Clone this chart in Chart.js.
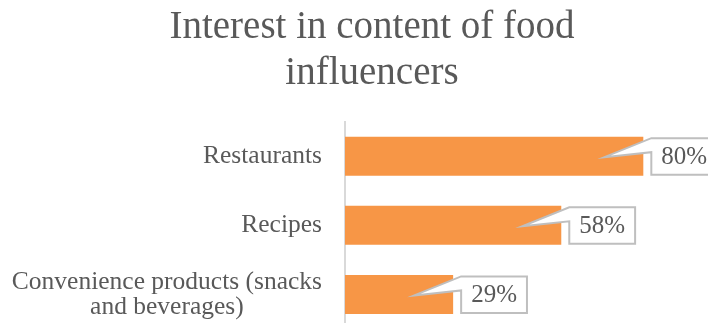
<!DOCTYPE html>
<html>
<head>
<meta charset="utf-8">
<script src="https://cdn.jsdelivr.net/npm/chart.js@4/dist/chart.umd.min.js"></script>
<style>
  html, body { margin: 0; padding: 0; background: #ffffff; overflow: hidden; }
  #wrap { width: 708px; height: 323px; overflow: hidden; position: relative; }
  canvas { display: block; }
</style>
</head>
<body>
<div id="wrap"><canvas id="chart" width="744" height="330"></canvas></div>
<script>
// Share of respondents interested in each kind of food-influencer content
const titleLines = ['Interest in content of food', 'influencers'];
const categories = ['Restaurants', 'Recipes', ['Convenience products (snacks', 'and beverages)']];
const interestPct = [80, 58, 29];

const TEXT = '#595959';
const SERIF = '"Liberation Serif", "DejaVu Serif", serif';

// Category labels: right-aligned block, each wrapped line centred inside it
const categoryLabels = {
  id: 'categoryLabels',
  afterDraw(chart) {
    const { ctx } = chart;
    const y = chart.scales.y;
    const right = y.right - 23;
    const lh = 25;
    ctx.save();
    ctx.font = '25.5px ' + SERIF;
    ctx.fillStyle = TEXT;
    ctx.textAlign = 'center';
    ctx.textBaseline = 'middle';
    categories.forEach((lab, i) => {
      const lines = Array.isArray(lab) ? lab : [lab];
      const w = Math.max(...lines.map(l => ctx.measureText(l).width));
      const cx = right - w / 2;
      const cy = y.getPixelForTick(i);
      lines.forEach((l, k) => {
        ctx.fillText(l, cx, cy + (k - (lines.length - 1) / 2) * lh);
      });
    });
    ctx.restore();
  }
};

// Value callouts: white box with a thin pointer reaching back into the bar
const valueCallouts = {
  id: 'valueCallouts',
  afterDatasetsDraw(chart) {
    const { ctx } = chart;
    const meta = chart.getDatasetMeta(0);
    ctx.save();
    ctx.font = '25px ' + SERIF;
    meta.data.forEach((bar, i) => {
      const txt = interestPct[i] + '%';
      const tw = ctx.measureText(txt).width;
      const L = bar.x + 8;
      const T = bar.y - 18;
      const B = bar.y + 18.5;
      const R = L + tw + 20;
      ctx.beginPath();
      ctx.moveTo(L, T);
      ctx.lineTo(R, T);
      ctx.lineTo(R, B);
      ctx.lineTo(L, B);
      ctx.lineTo(L, T + 14);
      ctx.lineTo(bar.x - 39, bar.y + 1);
      ctx.closePath();
      ctx.fillStyle = '#ffffff';
      ctx.fill();
      ctx.lineWidth = 2;
      ctx.lineJoin = 'miter';
      ctx.strokeStyle = '#BFBFBF';
      ctx.stroke();
      ctx.fillStyle = TEXT;
      ctx.textAlign = 'center';
      ctx.textBaseline = 'middle';
      ctx.fillText(txt, (L + R) / 2, bar.y + 1);
    });
    ctx.restore();
  }
};

new Chart(document.getElementById('chart'), {
  type: 'bar',
  data: {
    labels: categories,
    datasets: [{
      data: interestPct,
      backgroundColor: '#F79646',
      borderWidth: 0,
      categoryPercentage: 1,
      barPercentage: 0.565
    }]
  },
  options: {
    indexAxis: 'y',
    responsive: false,
    animation: false,
    events: [],
    layout: { padding: { top: 0, right: 0, bottom: 1, left: 0 } },
    plugins: {
      legend: { display: false },
      tooltip: { enabled: false },
      title: {
        display: true,
        text: titleLines,
        color: TEXT,
        font: { family: SERIF, size: 39, weight: 'normal', lineHeight: 1.2 },
        padding: { top: 4, bottom: 24 }
      }
    },
    scales: {
      x: {
        display: false,
        min: 0,
        max: 107
      },
      y: {
        grid: { display: false },
        border: { display: true, color: '#D9D9D9', width: 2 },
        ticks: { display: false },
        afterFit(scale) { scale.width = 345; }
      }
    }
  },
  plugins: [categoryLabels, valueCallouts]
});
</script>
</body>
</html>
